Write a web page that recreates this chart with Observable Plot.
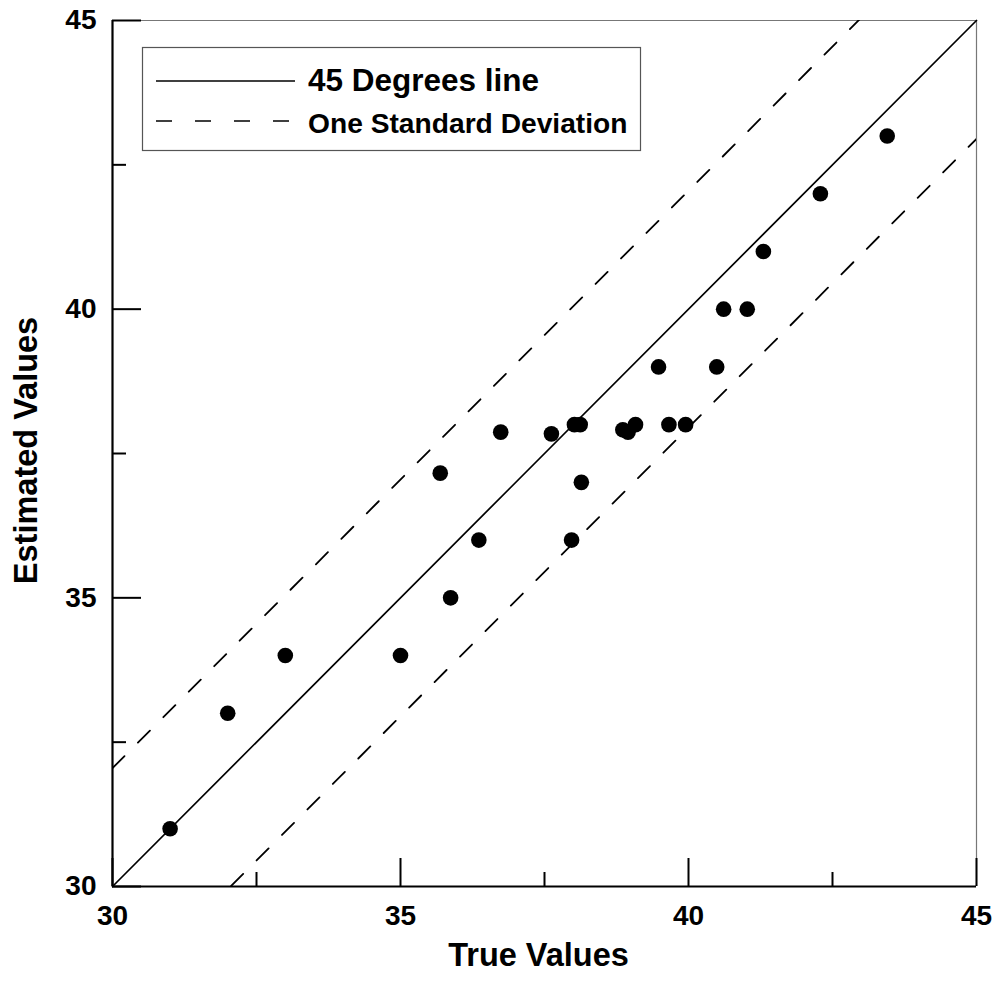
<!DOCTYPE html>
<html>
<head>
<meta charset="utf-8">
<script src="https://cdn.jsdelivr.net/npm/d3@7"></script>
<script src="https://cdn.jsdelivr.net/npm/@observablehq/plot@0.6"></script>
<style>
  html, body { margin: 0; padding: 0; background: #fff; }
  #chart svg { display: block; }
</style>
</head>
<body>
<div id="chart"></div>
<script>
// ---- data ----
const trueValues = [31.0, 32.0, 33.0, 35.0, 35.69, 35.87, 36.36, 36.74, 37.62, 37.97, 38.02, 38.12, 38.14, 38.86, 38.95, 39.08, 39.48, 39.66, 39.95, 40.49, 40.61, 41.02, 41.30, 42.29, 43.45];
const estimatedValues = [31.0, 33.0, 34.0, 34.0, 37.16, 35.0, 36.0, 37.87, 37.84, 36.0, 38.0, 38.0, 37.0, 37.91, 37.87, 38.0, 39.0, 38.0, 38.0, 39.0, 40.0, 40.0, 41.0, 42.0, 43.0];
const axisDomain = [30, 45];
const majorTicks = [30, 35, 40, 45];
const minorTicks = [32.5, 37.5, 42.5];
const tickLabels = ["30", "35", "40", "45"];
const diagonalEnds = [30, 45];
const stdDev = 2.05;
const xTitle = "True Values";
const yTitle = "Estimated Values";
const legendLabels = ["45 Degrees line", "One Standard Deviation"];

// ---- build ----
const points = trueValues.map((x, i) => ({x, y: estimatedValues[i]}));
const W = 996, H = 983, mL = 112, mR = 20, mT = 20, mB = 97;
const fw = W - mL - mR, fh = H - mT - mB;
const font = "'Liberation Sans', Arial, Helvetica, sans-serif";
const dash = "17,19";

const chart = Plot.plot({
  width: W, height: H,
  marginLeft: mL, marginRight: mR, marginTop: mT, marginBottom: mB,
  style: {fontFamily: font, background: "#fff", color: "#000"},
  x: {domain: axisDomain, axis: null},
  y: {domain: axisDomain, axis: null},
  marks: [
    Plot.ruleY([axisDomain[1]], {stroke: "#777", strokeWidth: 1.2}),
    Plot.ruleX([axisDomain[1]], {stroke: "#777", strokeWidth: 1.2}),
    Plot.line(diagonalEnds, {x: d => d, y: d => d, stroke: "#000", strokeWidth: 1.7}),
    Plot.line(diagonalEnds, {x: d => d, y: d => d + stdDev, stroke: "#000", strokeWidth: 1.8, strokeDasharray: dash, clip: true}),
    Plot.line(diagonalEnds, {x: d => d, y: d => d - stdDev, stroke: "#000", strokeWidth: 1.8, strokeDasharray: dash, strokeDashoffset: 12, clip: true}),
    Plot.dot(points, {x: "x", y: "y", r: 7.8, fill: "#000", stroke: null}),
    Plot.tickX(majorTicks, {x: d => d, insetTop: fh - 28, stroke: "#000", strokeWidth: 2}),
    Plot.tickX(minorTicks, {x: d => d, insetTop: fh - 14, stroke: "#000", strokeWidth: 2}),
    Plot.tickY(majorTicks, {y: d => d, insetRight: fw - 29, stroke: "#000", strokeWidth: 2}),
    Plot.tickY(minorTicks, {y: d => d, insetRight: fw - 14, stroke: "#000", strokeWidth: 2}),
    Plot.ruleX([axisDomain[0]], {stroke: "#000", strokeWidth: 2.2}),
    Plot.ruleY([axisDomain[0]], {stroke: "#000", strokeWidth: 2.2}),
    Plot.axisX(majorTicks, {tickSize: 0, tickPadding: 19, fontSize: 28, fontWeight: "bold", fill: "#000",
      tickFormat: d => tickLabels[majorTicks.indexOf(d)], label: null}),
    Plot.axisY(majorTicks, {tickSize: 0, tickPadding: 16, fontSize: 28, fontWeight: "bold", fill: "#000",
      tickFormat: d => tickLabels[majorTicks.indexOf(d)], label: null}),
    Plot.text([xTitle], {text: d => d, frameAnchor: "bottom", dx: -6, dy: 79, fontSize: 32.5, fontWeight: "bold", fill: "#000", textAnchor: "middle"}),
    Plot.text([yTitle], {text: d => d, frameAnchor: "left", dx: -86, dy: -3, rotate: -90, fontSize: 32.5, fontWeight: "bold", fill: "#000", textAnchor: "middle"})
  ]
});

// ---- legend (inside the frame, top-left) ----
const svg = d3.select(chart);
const lg = svg.append("g").attr("class", "legend").attr("text-anchor", "start");
lg.append("rect").attr("x", 142.5).attr("y", 47.5).attr("width", 498).attr("height", 103)
  .attr("fill", "#fff").attr("stroke", "#555").attr("stroke-width", 1.2);
lg.append("line").attr("x1", 156).attr("x2", 295).attr("y1", 81).attr("y2", 81)
  .attr("stroke", "#000").attr("stroke-width", 1.7);
lg.append("line").attr("x1", 156).attr("x2", 295).attr("y1", 121).attr("y2", 121)
  .attr("stroke", "#000").attr("stroke-width", 1.7).attr("stroke-dasharray", "16,23");
lg.append("text").attr("x", 308).attr("y", 91).text(legendLabels[0]).attr("text-anchor", "start")
  .attr("font-family", font).attr("font-weight", "bold").attr("font-size", 31.5).attr("fill", "#000");
lg.append("text").attr("x", 308).attr("y", 133).text(legendLabels[1]).attr("text-anchor", "start")
  .attr("font-family", font).attr("font-weight", "bold").attr("font-size", 28.2).attr("fill", "#000");

document.getElementById("chart").appendChild(chart);
</script>
</body>
</html>
